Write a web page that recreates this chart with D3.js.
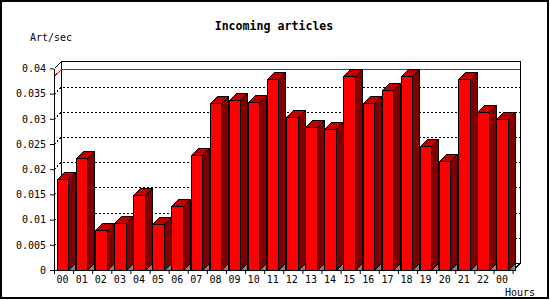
<!DOCTYPE html>
<html><head><meta charset="utf-8">
<script src="https://cdn.jsdelivr.net/npm/d3@7"></script>
<style>body{margin:0;background:#fff}svg{display:block}</style>
</head><body>
<script>
const hours = ["00","01","02","03","04","05","06","07","08","09","10","11","12","13","14","15","16","17","18","19","20","21","22","00"];
const rates = [0.0180,0.0223,0.0079,0.0093,0.0148,0.0091,0.0127,0.0228,0.0331,0.0337,0.0333,0.0378,0.0303,0.0283,0.0279,0.0385,0.0331,0.0358,0.0385,0.0247,0.0216,0.0378,0.0314,0.0299];
const yTicks = [0,0.005,0.01,0.015,0.02,0.025,0.03,0.035,0.04];
const title = "Incoming articles";
const yTitle = "Art/sec";
const xTitle = "Hours";

const W=550,H=300, D=7;
const n = rates.length;
const svg = d3.select("body").append("svg").attr("width",W).attr("height",H);
const mono = "'DejaVu Sans Mono', monospace";

// outer border
svg.append("rect").attr("x",0).attr("y",0).attr("width",W).attr("height",H).attr("fill","#fff");
svg.append("rect").attr("x",1).attr("y",1).attr("width",547).attr("height",297)
  .attr("fill","none").attr("stroke","#000").attr("stroke-width",2);

const x = d3.scaleBand().domain(d3.range(n)).range([54,512.6]).padding(0);
const xb = d3.scaleLinear().domain([0,n]).range([54,512.6]);
const y = d3.scaleLinear().domain([0,0.04]).range([270,68.4]);

const X0 = 54, X1 = 512.6;
const yTop = y(0.04);
const g = svg.append("g").attr("shape-rendering","crispEdges");

// back wall
g.append("rect").attr("x",X0+D+0.5).attr("y",Math.round(yTop-D)+0.5)
  .attr("width",Math.round(X1-X0)).attr("height",Math.round(y(0)-yTop))
  .attr("fill","#fff").attr("stroke","#000");

// gridlines (dotted) on back wall + left wall
yTicks.filter(v=>v>0 && v<0.04).forEach(v=>{
  const yy = Math.round(y(v))+0.5;
  g.append("path").attr("d",`M${X0},${yy}L${X0+D},${yy-D}L${X1+D},${yy-D}`)
   .attr("fill","none").attr("stroke","#000").attr("stroke-dasharray","2,2");
});

// max line (red)
const ym = Math.round(y(d3.max(rates)))+0.5;
g.append("path").attr("d",`M${X0},${ym}L${X0+D+0.5},${ym-D}L${X1+D+0.5},${ym-D}`)
  .attr("fill","none").attr("stroke","#e00000");

// left wall lines and floor
g.append("path").attr("d",`M${X0+0.5},${Math.round(yTop)+0.5}L${X0+D+0.5},${Math.round(yTop)-D+0.5}`)
  .attr("stroke","#000").attr("fill","none");
g.append("path").attr("d",`M${X1+0.5},270.5L${X1+D+0.5},263.5`).attr("stroke","#000").attr("fill","none");

// bars
const bw = 11.5;
rates.forEach((v,i)=>{
  const c = x(i)+x.bandwidth()/2-1;
  const xl = Math.round(c-bw/2)+0.5, xr = Math.round(c+bw/2)+0.5;
  const yt = Math.round(y(v))+0.5, yb = Math.round(y(0))+0.5;
  // floor triangle
  g.append("path").attr("d",`M${xr},${yb}L${xr+D},${yb-D}L${xr+D},${yb}Z`)
   .attr("fill","#808080").attr("stroke","#000");
  // side
  g.append("path").attr("d",`M${xr},${yt}L${xr+D},${yt-D}L${xr+D},${yb-D}L${xr},${yb}Z`)
   .attr("fill","#800000").attr("stroke","#000");
  // top
  g.append("path").attr("d",`M${xl},${yt}L${xl+D},${yt-D}L${xr+D},${yt-D}L${xr},${yt}Z`)
   .attr("fill","#c00000").attr("stroke","#000");
  // front
  g.append("rect").attr("x",xl).attr("y",yt).attr("width",xr-xl).attr("height",yb-yt)
   .attr("fill","#ff0000").attr("stroke","#000");
});

// y axis
const ya = svg.append("g").attr("transform",`translate(${X0},0)`)
  .call(d3.axisLeft(y).tickValues(yTicks).tickSize(4).tickSizeOuter(0).tickPadding(4)
    .tickFormat(d=>String(+d.toFixed(3))));
ya.attr("font-family",mono).attr("font-size",10);
ya.selectAll("text").attr("fill","#000");

// x axis ticks at band boundaries
const xa = svg.append("g").attr("transform","translate(0,270)")
  .call(d3.axisBottom(xb).tickValues(d3.range(0,n+1)).tickSize(4).tickSizeOuter(0).tickFormat(""));
// x labels
const xl = svg.append("g").attr("transform","translate(-1,270)")
  .call(d3.axisBottom(x).tickSize(0).tickPadding(6).tickFormat(i=>hours[i]));
xl.select(".domain").remove();
xl.attr("font-family",mono).attr("font-size",10);
xl.selectAll("text").attr("fill","#000");

// titles
svg.append("text").attr("x",274).attr("y",30).attr("text-anchor","middle")
  .attr("font-family",mono).attr("font-weight","bold").attr("font-size",11.6).text(title);
svg.append("text").attr("x",30).attr("y",41).attr("font-family",mono).attr("font-size",10).text(yTitle);
svg.append("text").attr("x",505).attr("y",296).attr("font-family",mono).attr("font-size",10).text(xTitle);
</script>
</body></html>
